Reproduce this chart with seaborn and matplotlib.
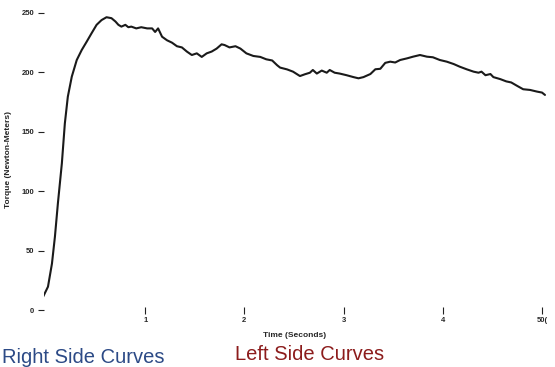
import pandas as pd
import seaborn as sns
import matplotlib.pyplot as plt

# Torque curve
time_s = [-0.03, 0.02, 0.06, 0.09, 0.12, 0.16, 0.19, 0.22, 0.26, 0.31, 0.36, 0.41, 0.46,
          0.51, 0.56, 0.61, 0.66, 0.70, 0.73, 0.76, 0.80, 0.83, 0.86, 0.91, 0.96, 1.02,
          1.07, 1.10, 1.13, 1.17, 1.22, 1.27, 1.32, 1.37, 1.42, 1.47, 1.52, 1.57, 1.62,
          1.67, 1.72, 1.77, 1.80, 1.85, 1.91, 1.96, 2.02, 2.09, 2.16, 2.22, 2.28, 2.33,
          2.36, 2.43, 2.49, 2.56, 2.61, 2.66, 2.69, 2.73, 2.78, 2.83, 2.86, 2.91, 2.96,
          3.03, 3.10, 3.15, 3.20, 3.27, 3.32, 3.37, 3.42, 3.47, 3.52, 3.57, 3.64, 3.70,
          3.77, 3.84, 3.90, 3.97, 4.04, 4.11, 4.17, 4.24, 4.31, 4.36, 4.39, 4.43, 4.48,
          4.51, 4.58, 4.64, 4.69, 4.75, 4.81, 4.88, 4.95, 5.00, 5.03]
torque = [11, 19.6, 39, 61.7, 89.8, 123.5, 157, 179.5, 196.4, 210.4, 218.8, 225.8, 233,
          240, 244, 246.4, 245.6, 242.8, 240, 238.5, 240, 238, 238.5, 237, 238, 237,
          237, 234, 237, 230, 227, 225, 222, 221, 217.5, 214.6, 216, 213, 216,
          217.5, 220, 223.6, 223, 221, 222, 220, 216, 213.8, 213, 211, 210, 206,
          204, 202.5, 200.6, 196.9, 198.4, 199.7, 202, 199, 201.5, 199.7, 202, 199.7, 199,
          197.6, 196, 195, 196, 198.6, 202.6, 203, 208, 209, 208.3, 210.4, 211.8, 213.2,
          214.6, 213.2, 212.7, 210.4, 209, 207, 204.8, 202.6, 200.6, 199.7, 200.6, 197.6, 198.6,
          196, 194.3, 192.4, 191.5, 188.6, 185.8, 185.2, 183.8, 183, 181]

x_ticks = [1, 2, 3, 4, 5]
x_labels = ["1", "2", "3", "4", "50("]
y_ticks = [0, 50, 100, 150, 200, 250]

df = pd.DataFrame({"time": time_s, "torque": torque})

sns.set_style("white")
plt.rcParams['font.family'] = ['Liberation Sans', 'DejaVu Sans']

fig = plt.figure(figsize=(5.55, 3.67), dpi=100)
ax = fig.add_axes([0.0793, 0.1444, 0.9207, 0.842])

sns.lineplot(data=df, x="time", y="torque", estimator=None, sort=False,
             color="#1a1a1a", linewidth=1.5, ax=ax)

ax.set_xlim(-0.02, 5.131)
ax.set_ylim(-3.37, 256.7)
for s in ax.spines.values():
    s.set_visible(False)

ax.set_yticks(y_ticks)
ax.set_yticklabels([str(v) for v in y_ticks], fontsize=5.5, fontweight="bold")
ax.tick_params(axis="y", left=True, direction="out", length=4, width=0.8, pad=3,
               color="#222222")
ax.set_xticks(x_ticks)
ax.set_xticklabels(x_labels, fontsize=5.5, fontweight="bold")
ax.tick_params(axis="x", bottom=True, direction="in", length=5, width=0.8, pad=2,
               color="#222222")

ax.set_xlabel("Time (Seconds)", fontsize=6, fontweight="bold")
ax.xaxis.set_label_coords(0.49, -0.058)
ax.set_ylabel("Torque (Newton-Meters)", fontsize=6, fontweight="bold")
ax.yaxis.set_label_coords(-0.062, 0.5)

fig.text(0.004, 0.012, "Right Side Curves", fontsize=14.5, color="#2c4a86")
fig.text(0.423, 0.02, "Left Side Curves", fontsize=14.5, color="#8c1c1c")

fig.savefig("out.png", dpi=100)
